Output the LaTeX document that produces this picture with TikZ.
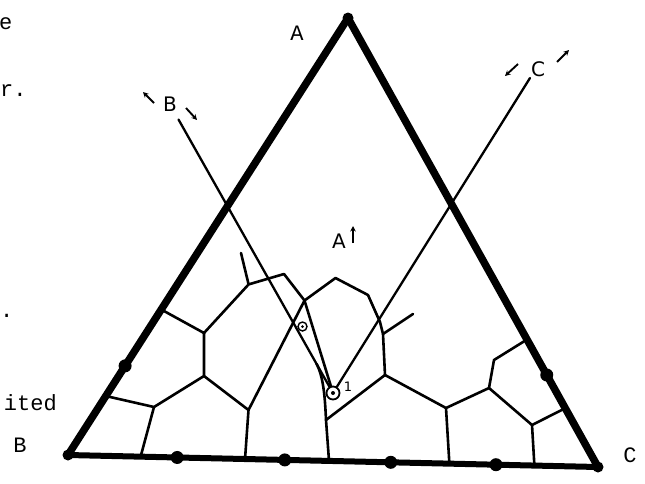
\documentclass[tikz,border=0pt]{standalone}
\usepackage{fontspec}
\setmainfont{Liberation Mono}
\newfontfamily\handfont{DejaVu Sans}
\usetikzlibrary{calc,arrows.meta}
\begin{document}
\begin{tikzpicture}[x=1pt,y=-1pt,
  edge/.style={line width=7.5pt,line cap=round,line join=round},
  baseedge/.style={line width=6pt,line cap=round},
  bnd/.style={line width=2.6pt,line join=round,line cap=round},
  tie/.style={line width=2.3pt,line cap=round},
  dot/.style={circle,fill=black,inner sep=0pt,minimum size=13pt},
  vdot/.style={circle,fill=black,inner sep=0pt,minimum size=11pt},
  lbl/.style={font=\fontsize{22}{22}\selectfont,inner sep=0pt},
  hlbl/.style={font=\handfont\fontsize{20}{20}\selectfont,inner sep=0pt},
  tick/.style={line width=1.9pt,-{Stealth[length=5.5pt,width=5.5pt]}},
  ring/.style={circle,draw,line width=1.8pt,inner sep=0pt,fill=white},
  pip/.style={circle,fill=black,inner sep=0pt,minimum size=3pt}]
\useasboundingbox (0,0) rectangle (645,483);
\clip (0,0) rectangle (645,483);
\fill[white] (0,0) rectangle (645,483);

% vertices
\coordinate (A) at (348,18);
\coordinate (B) at (68,455);
\coordinate (C) at (598,467);

% points on the edges
\coordinate (eL1) at ($(A)!0.667!(B)$);
\coordinate (eL2) at ($(A)!0.796!(B)$);
\coordinate (eL3) at ($(A)!0.865!(B)$);
\coordinate (eR1) at ($(A)!0.716!(C)$);
\coordinate (eR2) at ($(A)!0.795!(C)$);
\coordinate (eR3) at ($(A)!0.869!(C)$);
\coordinate (b1) at ($(B)!0.137!(C)$);
\coordinate (d1) at ($(B)!0.206!(C)$);
\coordinate (b2) at ($(B)!0.334!(C)$);
\coordinate (d2) at ($(B)!0.409!(C)$);
\coordinate (b3) at ($(B)!0.4925!(C)$);
\coordinate (d3) at ($(B)!0.609!(C)$);
\coordinate (b4) at ($(B)!0.7196!(C)$);
\coordinate (d4) at ($(B)!0.8075!(C)$);
\coordinate (b5) at ($(B)!0.88!(C)$);

% internal junctions
\coordinate (J1) at (204,333);
\coordinate (J2) at (204,376);
\coordinate (H1) at (248.6,284.4);
\coordinate (H1s) at (241,253);
\coordinate (H2) at (284,274);
\coordinate (Jtop) at (304.5,300.5);
\coordinate (H3) at (335.5,278);
\coordinate (H4) at (368,295);
\coordinate (J3) at (380,322);
\coordinate (S0) at (383,334);
\coordinate (S1) at (413,314);
\coordinate (J4) at (385,375);
\coordinate (Jbot) at (326,420);
\coordinate (Q1) at (248.5,410);
\coordinate (L1) at (154,407);
\coordinate (R1) at (446,408);
\coordinate (R2) at (489,388);
\coordinate (R3) at (494,360);
\coordinate (R4) at (532,425);
\coordinate (Bs) at (178.5,119.5);
\coordinate (Cs) at (530,78);

% triangle
\draw[edge] (A) -- (B);
\draw[edge] (A) -- (C);
\draw[baseedge] (B) -- (C);
\node[vdot] (vA) at (A) {};
\node[vdot] (vB) at (B) {};
\node[vdot] (vC) at (C) {};
\node[dot] (dL) at (eL2) {};
\node[dot] (dR) at (eR2) {};
\node[dot] (dB1) at (d1) {};
\node[dot] (dB2) at (d2) {};
\node[dot] (dB3) at (d3) {};
\node[dot] (dB4) at (d4) {};

% boundary curves
\draw[bnd] (eL1) -- (J1) -- (H1) -- (H2) -- (Jtop) -- (H3) -- (H4) -- (J3) -- (S0) -- (J4) -- (R1) -- (R2) -- (R3) -- (eR1);
\draw[bnd] (H1) -- (H1s);
\draw[bnd] (S0) -- (S1);
\draw[bnd] (J1) -- (J2) -- (L1) -- (eL3);
\draw[bnd] (L1) -- (b1);
\draw[bnd] (J2) -- (Q1) -- (b2);
\draw[bnd] (Q1) -- (Jtop);
\draw[bnd] (J4) -- (Jbot) -- (b3);
\draw[bnd] (R1) -- (b4);
\draw[bnd] (R2) -- (R4) -- (eR3);
\draw[bnd] (R4) -- (b5);

% invariant points
\node[ring,minimum size=13pt] (p1) at (333,393) {};
\node[pip,minimum size=4pt] (p1c) at (p1) {};
\node[ring,minimum size=9pt,line width=1.4pt] (p2) at (302.5,326.5) {};
\node[pip] (p2c) at (p2) {};

% composition lines
\coordinate (Y) at ($(Bs)!0.8936!(p1.center)$);
\draw[tie] (Bs) -- (p1);
\draw[tie] (Cs) -- (p1);
\draw[bnd] (Jtop) -- (p1);
\draw[bnd] (Y) .. controls +(7,13) and +(-1,-22) .. (Jbot);

% labels
\node[lbl] (lAv) at (297,33) {A};
\node[lbl] (lBv) at (20,445) {B};
\node[lbl] (lCv) at (630,455) {C};
\node[hlbl] (lB) at (170,104) {B};
\draw[tick] ($(lB)+(-16,-1)$) -- ++(-11,-11);
\draw[tick] ($(lB)+(16,4)$) -- ++(11,12);
\node[hlbl] (lC) at (538,69) {C};
\draw[tick] ($(lC)+(-20,-5)$) -- ++(-13,12);
\draw[tick] ($(lC)+(19,-7)$) -- ++(12,-12);
\node[hlbl] (lA) at (339,241) {A};
\draw[tick] ($(lA)+(14,2)$) -- ++(0,-17);
\node[hlbl,font=\handfont\fontsize{13}{13}\selectfont] (l1) at (348,387) {1};

% fragments of neighbouring text
\node[lbl,anchor=base west] (fe) at (-1,29) {e};
\node[lbl,anchor=base west] (fr) at (0,96) {r.};
\node[lbl,anchor=base west] (fdot) at (0,317) {.};
\node[lbl,anchor=base east] (fited) at (57,410) {ited};
\end{tikzpicture}
\end{document}
